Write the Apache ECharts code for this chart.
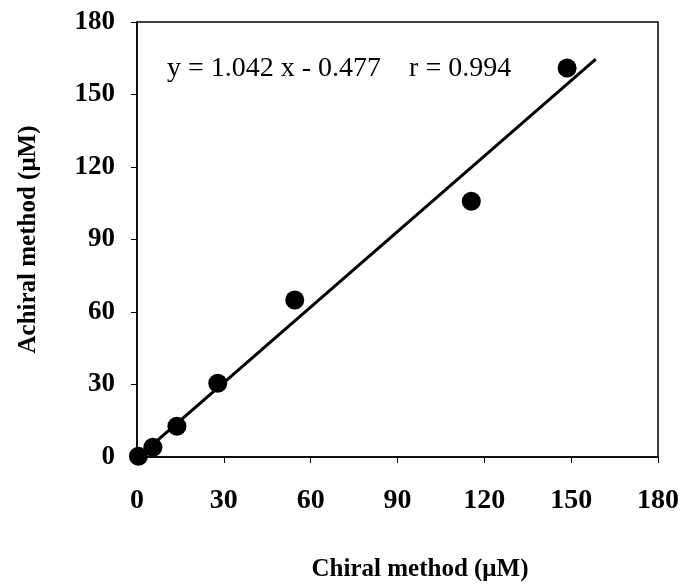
<!DOCTYPE html>
<html>
<head>
<meta charset="utf-8">
<script src="https://cdn.jsdelivr.net/npm/echarts@6/dist/echarts.min.js"></script>
<style>
  html, body { margin: 0; padding: 0; background: #fff; }
  #chart { width: 682px; height: 587px; }
</style>
</head>
<body>
<div id="chart"></div>
<script>
// measured concentrations (uM)
const chiral = [0.5, 5.5, 13.8, 27.9, 54.5, 115.5, 148.6];
const achiral = [0.3, 4.0, 12.7, 30.5, 65.0, 105.8, 161.0];

// regression line as printed on the figure
const slope = 1.042;
const intercept = -0.477;
const fitRange = [0, 158.5];

const serif = '"Liberation Serif", "DejaVu Serif", serif';

const chart = echarts.init(document.getElementById('chart'));

const points = chiral.map((x, i) => [x, achiral[i]]);
const fitLine = fitRange.map(x => [x, slope * x + intercept]);

chart.setOption({
    animation: false,
    grid: {left: 137, right: 23, top: 22, bottom: 128, show: true, borderColor: '#000', borderWidth: 1.5},
    xAxis: {
        type: 'value',
        min: 0, max: 180, interval: 30,
        name: 'Chiral method (μM)',
        nameLocation: 'middle',
        nameGap: 100,
        nameTextStyle: {fontFamily: serif, fontWeight: 'bold', fontSize: 25, color: '#000', padding: [0, 0, 0, 45]},
        axisLine: {onZero: false, lineStyle: {color: '#000', width: 1.5}},
        axisTick: {inside: false, length: 6, lineStyle: {color: '#000'}},
        axisLabel: {fontFamily: serif, fontWeight: 'bold', fontSize: 28, color: '#000', margin: 30},
        splitLine: {show: false}
    },
    yAxis: {
        type: 'value',
        min: 0, max: 180, interval: 30,
        name: 'Achiral method (μM)',
        nameLocation: 'middle',
        nameGap: 96,
        nameTextStyle: {fontFamily: serif, fontWeight: 'bold', fontSize: 25, color: '#000'},
        axisLine: {onZero: false, lineStyle: {color: '#000', width: 1.5}},
        axisTick: {inside: false, length: 6, lineStyle: {color: '#000'}},
        axisLabel: {fontFamily: serif, fontWeight: 'bold', fontSize: 27, color: '#000', margin: 22},
        splitLine: {show: false}
    },
    graphic: [{
        type: 'text',
        left: 167, top: 55,
        style: {
            text: 'y = 1.042 x - 0.477    r = 0.994',
            font: '28px ' + serif,
            fill: '#000'
        }
    }],
    series: [
        {
            type: 'line',
            data: fitLine,
            symbol: 'none',
            lineStyle: {color: '#000', width: 3},
            z: 2
        },
        {
            type: 'scatter',
            data: points,
            symbol: 'circle',
            symbolSize: 19,
            itemStyle: {color: '#000', opacity: 1},
            z: 3
        }
    ]
});
</script>
</body>
</html>
